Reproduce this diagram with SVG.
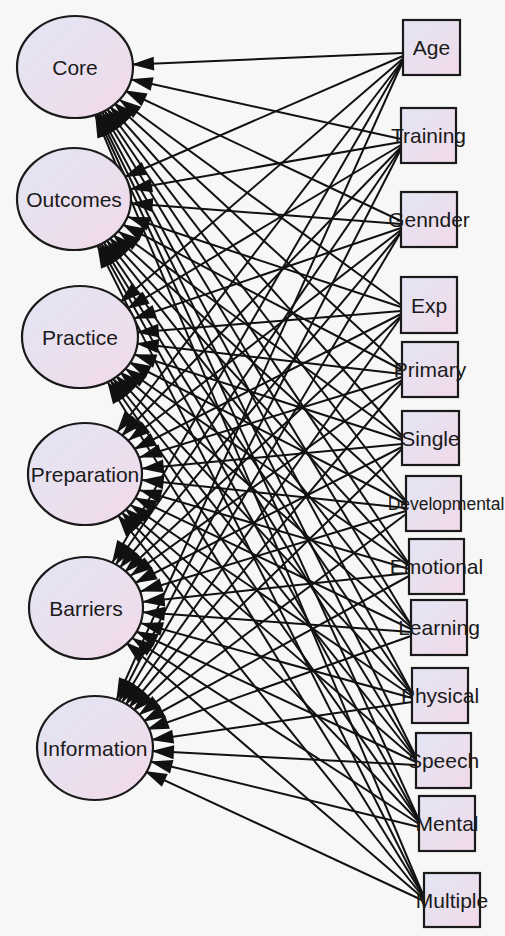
<svg xmlns="http://www.w3.org/2000/svg" width="505" height="936" viewBox="0 0 505 936">
<style>
.bg{fill:#f7f7f7}
.n{fill:url(#g);stroke:#1a1a1a;stroke-width:2.2}
.t{font-family:"Liberation Sans",Arial,sans-serif;font-size:21px;fill:#1a1a1a;text-anchor:middle}
#edges line{stroke:#111;stroke-width:2}
#edges .a{marker-end:url(#ma)}
#edges .b{marker-end:url(#mb)}
#edges .c{marker-end:url(#mc)}
</style>
<defs>
<linearGradient id="g" x1="0" y1="0" x2="1" y2="1">
<stop offset="0" stop-color="#e2e5f4"/>
<stop offset="1" stop-color="#f2dae9"/>
</linearGradient>
<marker id="ma" markerUnits="userSpaceOnUse" orient="auto" refX="0" refY="0" markerWidth="1" markerHeight="1" overflow="visible"><path d="M-56.5,0 L-79,-7 L-79,7 Z" fill="#111"/></marker>
<marker id="mb" markerUnits="userSpaceOnUse" orient="auto" refX="0" refY="0" markerWidth="1" markerHeight="1" overflow="visible"><path d="M-54.5,0 L-77,-7 L-77,7 Z" fill="#111"/></marker>
<marker id="mc" markerUnits="userSpaceOnUse" orient="auto" refX="0" refY="0" markerWidth="1" markerHeight="1" overflow="visible"><path d="M-52,0 L-74.5,-7 L-74.5,7 Z" fill="#111"/></marker>
</defs>
<rect class="bg" x="0" y="0" width="505" height="936"/>
<g id="edges">
<line class="a" x1="403" y1="53" x2="75" y2="67"/>
<line class="b" x1="403" y1="56" x2="74" y2="199"/>
<line class="c" x1="403" y1="58.5" x2="80" y2="337"/>
<line class="c" x1="403" y1="60" x2="85" y2="474"/>
<line class="c" x1="403" y1="60" x2="86" y2="608"/>
<line class="c" x1="403" y1="61" x2="95" y2="748"/>
<line class="a" x1="401" y1="139" x2="75" y2="67"/>
<line class="a" x1="401" y1="142" x2="74" y2="199"/>
<line class="b" x1="401" y1="145" x2="80" y2="337"/>
<line class="c" x1="401" y1="147" x2="85" y2="474"/>
<line class="c" x1="401" y1="148" x2="86" y2="608"/>
<line class="c" x1="401" y1="149" x2="95" y2="748"/>
<line class="b" x1="401" y1="221" x2="75" y2="67"/>
<line class="a" x1="401" y1="224" x2="74" y2="199"/>
<line class="a" x1="401" y1="228" x2="80" y2="337"/>
<line class="b" x1="401" y1="230" x2="85" y2="474"/>
<line class="c" x1="401" y1="232" x2="86" y2="608"/>
<line class="c" x1="401" y1="232" x2="95" y2="748"/>
<line class="b" x1="401" y1="305" x2="75" y2="67"/>
<line class="a" x1="401" y1="307" x2="74" y2="199"/>
<line class="a" x1="401" y1="311" x2="80" y2="337"/>
<line class="b" x1="401" y1="314" x2="85" y2="474"/>
<line class="c" x1="401" y1="316" x2="86" y2="608"/>
<line class="c" x1="401" y1="317" x2="95" y2="748"/>
<line class="c" x1="402" y1="368" x2="75" y2="67"/>
<line class="b" x1="402" y1="370" x2="74" y2="199"/>
<line class="a" x1="402" y1="374" x2="80" y2="337"/>
<line class="a" x1="402" y1="377" x2="85" y2="474"/>
<line class="b" x1="402" y1="380" x2="86" y2="608"/>
<line class="c" x1="402" y1="382" x2="95" y2="748"/>
<line class="c" x1="402" y1="436" x2="75" y2="67"/>
<line class="b" x1="402" y1="438" x2="74" y2="199"/>
<line class="a" x1="402" y1="440" x2="80" y2="337"/>
<line class="a" x1="402" y1="444" x2="85" y2="474"/>
<line class="b" x1="402" y1="447" x2="86" y2="608"/>
<line class="c" x1="402" y1="449" x2="95" y2="748"/>
<line class="c" x1="406" y1="501" x2="75" y2="67"/>
<line class="c" x1="406" y1="502" x2="74" y2="199"/>
<line class="b" x1="406" y1="504" x2="80" y2="337"/>
<line class="a" x1="406" y1="508" x2="85" y2="474"/>
<line class="a" x1="406" y1="511" x2="86" y2="608"/>
<line class="b" x1="406" y1="514" x2="95" y2="748"/>
<line class="c" x1="409" y1="564" x2="75" y2="67"/>
<line class="c" x1="409" y1="565" x2="74" y2="199"/>
<line class="b" x1="409" y1="566" x2="80" y2="337"/>
<line class="a" x1="409" y1="569" x2="85" y2="474"/>
<line class="a" x1="409" y1="573" x2="86" y2="608"/>
<line class="b" x1="409" y1="576" x2="95" y2="748"/>
<line class="c" x1="411" y1="625" x2="75" y2="67"/>
<line class="c" x1="411" y1="625" x2="74" y2="199"/>
<line class="c" x1="411" y1="627" x2="80" y2="337"/>
<line class="b" x1="411" y1="629" x2="85" y2="474"/>
<line class="a" x1="411" y1="632" x2="86" y2="608"/>
<line class="b" x1="411" y1="636" x2="95" y2="748"/>
<line class="c" x1="412" y1="693" x2="75" y2="67"/>
<line class="c" x1="412" y1="693" x2="74" y2="199"/>
<line class="c" x1="412" y1="694" x2="80" y2="337"/>
<line class="b" x1="412" y1="696" x2="85" y2="474"/>
<line class="a" x1="412" y1="698" x2="86" y2="608"/>
<line class="a" x1="412" y1="702" x2="95" y2="748"/>
<line class="c" x1="416" y1="757" x2="75" y2="67"/>
<line class="c" x1="416" y1="758" x2="74" y2="199"/>
<line class="c" x1="416" y1="759" x2="80" y2="337"/>
<line class="c" x1="416" y1="760" x2="85" y2="474"/>
<line class="b" x1="416" y1="762" x2="86" y2="608"/>
<line class="a" x1="416" y1="765" x2="95" y2="748"/>
<line class="c" x1="419" y1="820" x2="75" y2="67"/>
<line class="c" x1="419" y1="821" x2="74" y2="199"/>
<line class="c" x1="419" y1="821" x2="80" y2="337"/>
<line class="c" x1="419" y1="822" x2="85" y2="474"/>
<line class="b" x1="419" y1="824" x2="86" y2="608"/>
<line class="a" x1="419" y1="827" x2="95" y2="748"/>
<line class="c" x1="424" y1="897" x2="75" y2="67"/>
<line class="c" x1="424" y1="897" x2="74" y2="199"/>
<line class="c" x1="424" y1="897" x2="80" y2="337"/>
<line class="c" x1="424" y1="898" x2="85" y2="474"/>
<line class="c" x1="424" y1="899" x2="86" y2="608"/>
<line class="b" x1="424" y1="901" x2="95" y2="748"/>
</g>
<g id="core"><ellipse class="n" cx="75" cy="67" rx="58" ry="51"/><text class="t" x="75" y="74.5">Core</text></g>
<g id="outcomes"><ellipse class="n" cx="74" cy="199" rx="57" ry="51"/><text class="t" x="74" y="206.5">Outcomes</text></g>
<g id="practice"><ellipse class="n" cx="80" cy="337" rx="58" ry="51"/><text class="t" x="80" y="344.5">Practice</text></g>
<g id="preparation"><ellipse class="n" cx="85" cy="474" rx="57" ry="51"/><text class="t" x="85" y="481.5">Preparation</text></g>
<g id="barriers"><ellipse class="n" cx="86" cy="608" rx="57" ry="51"/><text class="t" x="86" y="615.5">Barriers</text></g>
<g id="information"><ellipse class="n" cx="95" cy="748" rx="58" ry="52"/><text class="t" x="95" y="755.5">Information</text></g>
<g id="age"><rect class="n" x="403" y="20" width="57" height="55"/><text class="t" x="431.5" y="55">Age</text></g>
<g id="training"><rect class="n" x="401" y="108" width="55" height="55"/><text class="t" x="428.5" y="143">Training</text></g>
<g id="gennder"><rect class="n" x="401" y="192" width="56" height="55"/><text class="t" x="429" y="227">Gennder</text></g>
<g id="exp"><rect class="n" x="401" y="277" width="56" height="56"/><text class="t" x="429" y="312.5">Exp</text></g>
<g id="primary"><rect class="n" x="402" y="342" width="56" height="55"/><text class="t" x="430" y="377">Primary</text></g>
<g id="single"><rect class="n" x="402" y="411" width="57" height="54"/><text class="t" x="430.5" y="445.5">Single</text></g>
<g id="developmental"><rect class="n" x="406" y="476" width="55" height="55"/><text class="t" x="446" y="510" style="font-size:17.5px">Developmental</text></g>
<g id="emotional"><rect class="n" x="409" y="539" width="55" height="55"/><text class="t" x="436.5" y="574">Emotional</text></g>
<g id="learning"><rect class="n" x="411" y="600" width="56" height="55"/><text class="t" x="439" y="635">Learning</text></g>
<g id="physical"><rect class="n" x="412" y="668" width="56" height="55"/><text class="t" x="440" y="703">Physical</text></g>
<g id="speech"><rect class="n" x="416" y="733" width="55" height="55"/><text class="t" x="443.5" y="768">Speech</text></g>
<g id="mental"><rect class="n" x="419" y="796" width="56" height="55"/><text class="t" x="447" y="831">Mental</text></g>
<g id="multiple"><rect class="n" x="424" y="873" width="56" height="54"/><text class="t" x="452" y="907.5">Multiple</text></g>
</svg>
